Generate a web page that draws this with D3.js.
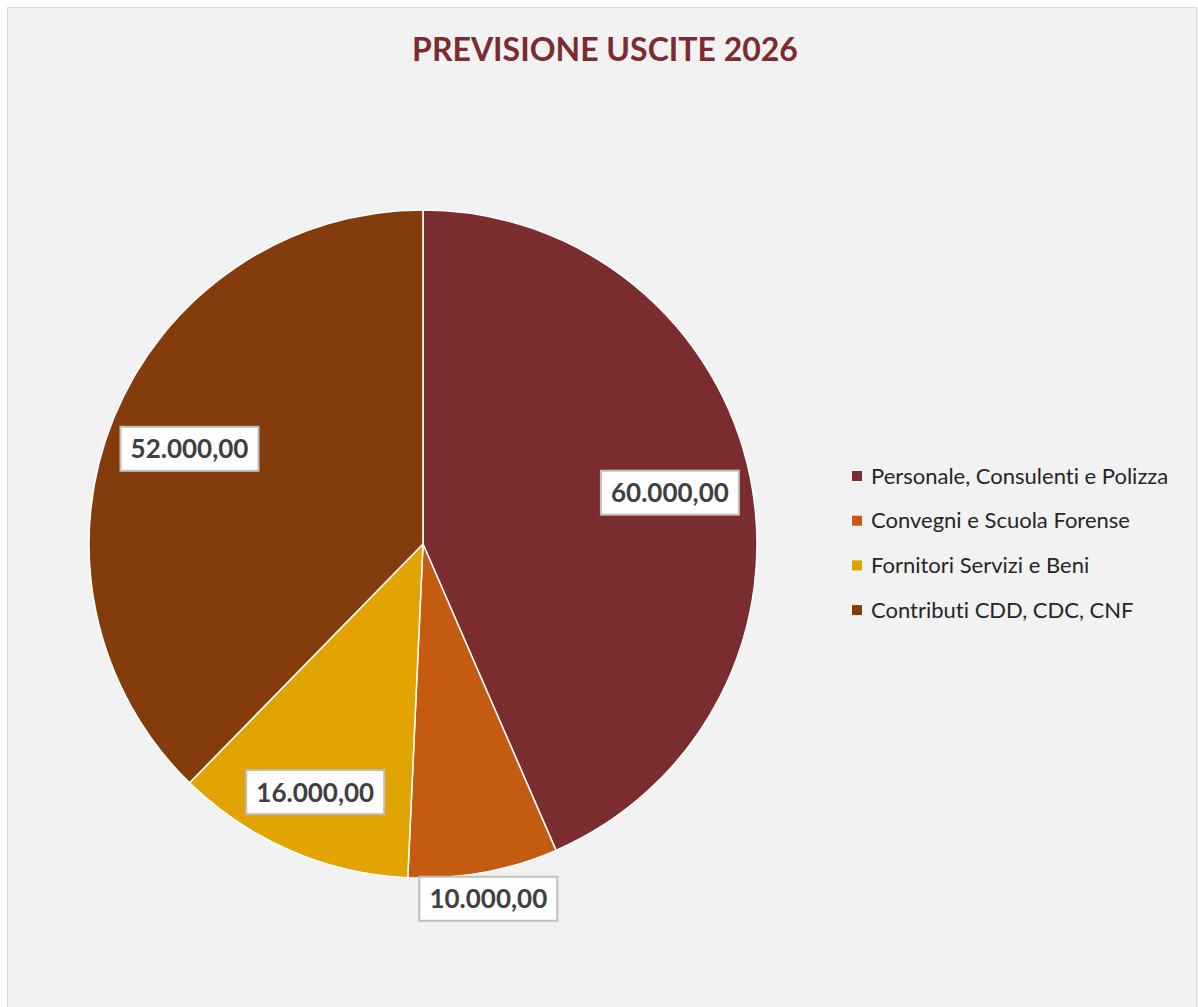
<!DOCTYPE html>
<html><head><meta charset="utf-8">
<script src="https://cdn.jsdelivr.net/npm/d3@7"></script>
<style>html,body{margin:0;padding:0;background:#fff;}svg{display:block;}text{font-variant-ligatures:none;}</style>
</head><body>
<svg id="c" width="1198" height="1007"></svg>
<script>
const categories = ["Personale, Consulenti e Polizza","Convegni e Scuola Forense","Fornitori Servizi e Beni","Contributi CDD, CDC, CNF"];
const values = [60000, 10000, 16000, 52000];
const colors = ["#7B2C2E","#C55A11","#E2A400","#843C0C"];
const title = "PREVISIONE USCITE 2026";

const svg = d3.select("#c");
svg.append("rect").attr("x",7.5).attr("y",7.5).attr("width",1189).attr("height",1005)
  .attr("fill","#F2F2F2").attr("stroke","#D9D9D9").attr("stroke-width",1);

svg.append("text").attr("x",605).attr("y",61).attr("text-anchor","middle")
  .attr("font-family","Lato, 'Open Sans', sans-serif").attr("font-weight","bold")
  .attr("font-size",32).attr("fill","#7B2C2E").text(title);

const cx=423, cy=544, R=334;
const data = categories.map((c,i)=>({cat:c,value:values[i],color:colors[i]}));
const pie = d3.pie().value(d=>d.value).sort(null);
const arcs = pie(data);
const arc = d3.arc().innerRadius(0).outerRadius(R);
const g = svg.append("g").attr("transform",`translate(${cx},${cy})`);
g.selectAll("path").data(arcs).join("path").attr("d",arc)
  .attr("fill",d=>d.data.color).attr("stroke","#fff").attr("stroke-width",1.5);

const fmt = v => d3.format(",.2f")(v).replace(/,/g,"#").replace(/\./g,",").replace(/#/g,".");
arcs.forEach(a=>{
  const span = a.endAngle - a.startAngle;
  const k = span < 0.5 ? 1.08 : (span < 0.8 ? 0.81 : 0.755);
  const mid = (a.startAngle + a.endAngle)/2;
  const x = Math.sin(mid)*R*k, y = -Math.cos(mid)*R*k;
  const lg = g.append("g").attr("transform",`translate(${x},${y})`);
  lg.append("rect").attr("x",-69).attr("y",-22).attr("width",138).attr("height",44)
    .attr("fill","#fff").attr("stroke","#BFBFBF").attr("stroke-width",2);
  lg.append("text").attr("text-anchor","middle").attr("dy","0.36em")
    .attr("font-family","Lato, 'Open Sans', sans-serif").attr("font-weight","bold")
    .attr("font-size",26).attr("fill","#404040").text(fmt(a.data.value));
});

const leg = svg.append("g");
categories.forEach((c,i)=>{
  const y = 476 + i*44.7;
  leg.append("rect").attr("x",852).attr("y",y-5).attr("width",10).attr("height",10).attr("fill",colors[i]);
  leg.append("text").attr("x",871).attr("y",y).attr("dy","0.35em")
    .attr("font-family","Lato, 'Open Sans', sans-serif").attr("font-size",22).attr("fill","#262626").text(c);
});
</script>
</body></html>
